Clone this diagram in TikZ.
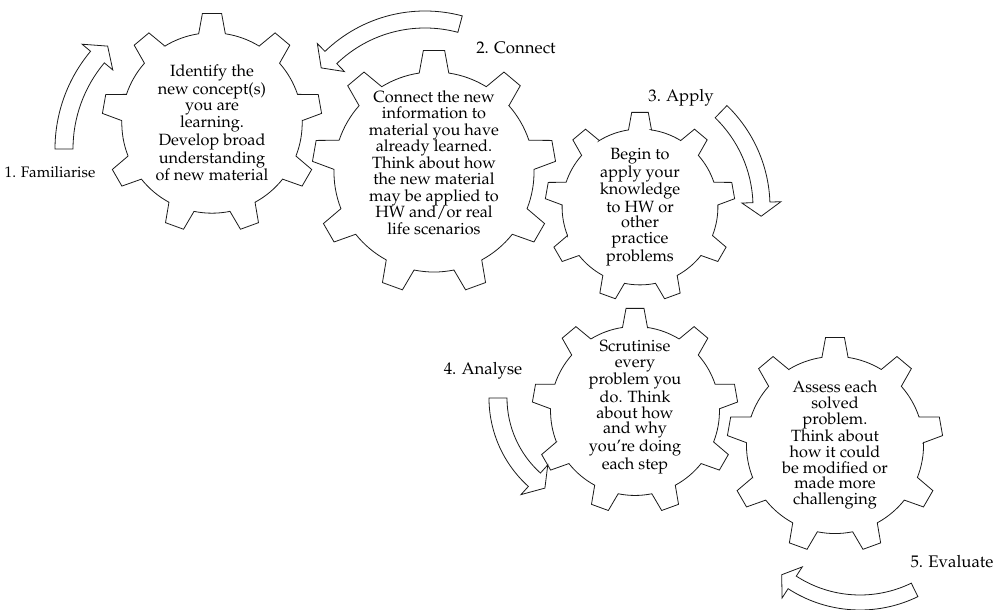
\documentclass[tikz,border=0pt]{standalone}
\usepackage[T1]{fontenc}
\usepackage{mathpazo}
\usepackage{tikz}
\definecolor{cycInk}{HTML}{1A1A1A}
\tikzset{
  cycgear/.style={draw=cycInk,line width=0.6pt,fill=white,line join=miter},
  cycarrow/.style={draw=cycInk,line width=0.6pt,fill=white},
  cyctext/.style={font=\fontsize{12.2}{11.75}\selectfont,align=center,inner sep=0pt},
  cyclabel/.style={font=\fontsize{12.6}{14}\selectfont,inner sep=0pt}
}
% gear with nine teeth: #1 centre, #2 outer radius
\newcommand{\drawgear}[2]{%
  \begin{scope}[shift={(#1)}]
    \draw[cycgear] (81.5:{0.82*#2})
      \foreach \a in {90,130,...,410}{
        -- (\a-8.5:{0.82*#2}) -- (\a-5:#2) -- (\a+5:#2) -- (\a+8.5:{0.82*#2})
        arc[start angle=\a+8.5,end angle=\a+31.5,radius={0.82*#2}]} -- cycle;
  \end{scope}}
% curved block arrow: #1 centre, #2 tail angle, #3 neck angle,
% #4 tip angle, #5 inner radius, #6 outer radius
\newcommand{\bentarrow}[6]{%
  \begin{scope}[shift={(#1)}]
    \draw[cycarrow] (#2:#6) arc[start angle=#2,end angle=#3,radius=#6]
      -- (#3:{#6+11}) -- (#4:{(#5+#6)/2}) -- (#3:{#5-11}) -- (#3:#5)
      arc[start angle=#3,end angle=#2,radius=#5] -- cycle;
  \end{scope}}

\begin{document}
\begin{tikzpicture}[x=0.75pt,y=0.75pt]
  \useasboundingbox (0,0) rectangle (1004,610);

  \coordinate (famc) at (212,487);
  \coordinate (conc) at (434,438);
  \coordinate (appc) at (640,403);
  \coordinate (anac) at (635,199);
  \coordinate (evac) at (835,165);

  \drawgear{famc}{110}
  \drawgear{conc}{122}
  \drawgear{appc}{95}
  \drawgear{anac}{103}
  \drawgear{evac}{108}

  \node[cyctext] (famtext) at (famc)
    {Identify the\\new concept(s)\\you are\\learning.\\Develop broad\\understanding\\of new material};
  \node[cyctext,font=\fontsize{12.2}{12.4}\selectfont] (context) at ([yshift=7]conc)
    {Connect the new\\information to\\material you have\\already learned.\\Think about how\\the new material\\may be applied to\\HW and/or real\\life scenarios};
  \node[cyctext] (apptext) at (appc)
    {Begin to\\apply your\\knowledge\\to HW or\\other\\practice\\problems};
  \node[cyctext] (anatext) at ([yshift=3]anac)
    {Scrutinise\\every\\problem you\\do. Think\\about how\\and why\\you're doing\\each step};
  \node[cyctext] (evatext) at (evac)
    {Assess each\\solved\\problem.\\Think about\\how it could\\be modified or\\made more\\challenging};

  \node[cyclabel,font=\fontsize{11.4}{13}\selectfont] (famlbl) at (50,438) {1. Familiarise};
  \node[cyclabel] (conlbl) at (516,562) {2. Connect};
  \node[cyclabel] (applbl) at (681,512) {3. Apply};
  \node[cyclabel] (analbl) at (483,239) {4. Analyse};
  \node[cyclabel] (evalbl) at (952,48) {5. Evaluate};

  \bentarrow{207,461}{180}{140}{134}{134}{152}
  \bentarrow{425,455}{75}{134}{140}{127}{144}
  \bentarrow{629,403}{46}{2}{-4}{124}{141}
  \bentarrow{608,212}{180}{228}{235}{101}{119}
  \bentarrow{860,132}{-64}{-123}{-129}{117}{132}
\end{tikzpicture}
\end{document}
